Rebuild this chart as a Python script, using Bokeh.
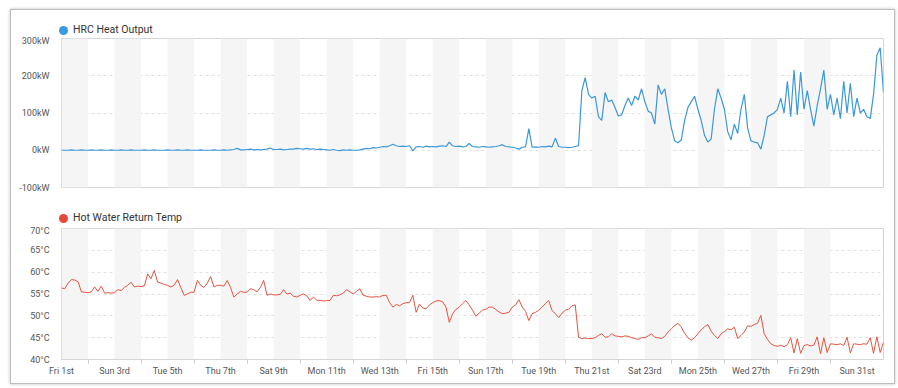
import pandas as pd
from bokeh.plotting import figure
from bokeh.models import (FixedTicker, PrintfTickFormatter, BoxAnnotation, Range1d,
                          ColumnDataSource, Div)
from bokeh.layouts import column
from bokeh.embed import file_html
from bokeh.resources import INLINE

# ---------------- data (3-hourly readings, March 2024) ----------------
start_date = "2024-03-01"
heat_kw = [
    0, 0, 0, 1, 0, 0, 1, 0,
    0, 1, 0, 0, 1, 0, 0, 1,
    0, 0, 1, 0, 0, 1, 0, 0,
    0, 1, 0, 0, 1, 0, 0, 0,
    1, 0, 0, 1, 0, 0, 1, 0,
    0, 0, 1, 0, 0, 0, 1, 0,
    0, 1, 0, 1, 2, 5, 1, 1,
    2, 3, 1, 2, 1, 2, 3, 6,
    2, 2, 3, 1, 2, 3, 3, 5,
    4, 3, 5, 3, 4, 2, 3, 2,
    1, 0, 2, 0, -1, 1, 0, 1,
    0, 0, 1, 3, 5, 4, 7, 6,
    8, 10, 9, 12, 16, 12, 10, 11,
    10, 12, -2, 9, 10, 8, 11, 9,
    10, 9, 11, 12, 10, 22, 12, 10,
    11, 9, 10, 18, 10, 9, 8, 10,
    9, 8, 9, 10, 12, 15, 10, 9,
    8, 6, 3, 8, 9, 58, 8, 9,
    8, 10, 9, 11, 9, 32, 10, 8,
    8, 7, 8, 10, 12, 160, 195, 150,
    140, 145, 90, 80, 155, 130, 135, 115,
    92, 95, 120, 140, 120, 145, 135, 165,
    130, 105, 100, 70, 175, 150, 165, 110,
    60, 25, 20, 28, 80, 115, 130, 145,
    110, 80, 40, 22, 30, 110, 165, 140,
    110, 50, 28, 70, 45, 110, 150, 60,
    25, 22, 20, 3, 40, 90, 95, 100,
    110, 140, 100, 185, 90, 215, 95, 210,
    110, 160, 110, 65, 120, 165, 215, 110,
    150, 95, 140, 85, 185, 100, 180, 90,
    140, 100, 110, 90, 85, 150, 255, 275,
    155,
]
return_temp_c = [
    56.4, 56.2, 57.5, 58.3, 58.2, 57.8, 55.5, 55.4,
    55.3, 55.5, 56.6, 55.6, 56.8, 55.2, 55.3, 55.2,
    55.3, 56.0, 55.8, 56.5, 57.0, 57.7, 56.6, 56.8,
    56.7, 56.9, 59.6, 58.5, 60.4, 57.7, 57.5, 57.2,
    57.0, 56.6, 57.0, 58.3, 56.5, 54.7, 55.0, 55.4,
    55.4, 58.1, 57.0, 56.5, 57.5, 59.0, 56.6, 57.0,
    57.0, 56.8, 58.1, 56.5, 54.3, 55.0, 55.6, 55.4,
    55.4, 56.2, 56.0, 55.5, 56.5, 58.1, 54.7, 55.0,
    54.8, 54.8, 54.9, 56.0, 55.0, 55.2, 54.5, 54.3,
    54.7, 55.0, 54.6, 53.5, 54.3, 53.6, 53.5, 53.4,
    53.5, 53.5, 54.7, 54.6, 54.8, 55.2, 56.0, 55.5,
    55.0, 55.6, 56.2, 54.7, 54.5, 54.3, 54.3, 54.4,
    54.3, 54.7, 54.7, 53.0, 52.0, 52.6, 52.3, 52.8,
    53.0, 53.0, 54.7, 50.8, 52.7, 51.8, 51.6, 52.5,
    53.0, 53.4, 53.5, 53.2, 52.0, 48.5, 50.5, 51.5,
    52.0, 52.8, 53.5, 52.5, 51.3, 49.9, 50.6, 51.3,
    51.5, 52.0, 52.0, 51.5, 50.9, 50.5, 50.6, 50.8,
    52.0, 52.5, 53.7, 52.0, 51.0, 48.9, 50.5, 50.8,
    51.3, 52.0, 52.8, 53.5, 51.2, 50.5, 49.6, 50.6,
    51.3, 51.5, 52.3, 52.5, 45.1, 44.8, 44.9, 44.8,
    44.8, 45.0, 45.5, 45.9, 45.1, 45.2, 45.9, 45.4,
    45.3, 45.2, 45.4, 45.3, 45.0, 44.8, 44.6, 45.0,
    45.0, 45.4, 45.9, 45.1, 45.0, 44.8, 45.3, 46.3,
    47.0, 47.8, 48.3, 47.4, 46.0, 45.0, 44.4, 45.0,
    45.9, 46.8, 47.5, 48.0, 46.5, 45.5, 44.8, 45.9,
    46.4, 47.0, 46.8, 47.4, 44.8, 45.5, 46.3, 47.7,
    47.6, 48.0, 48.3, 50.1, 45.9, 44.6, 43.6, 43.2,
    43.0, 43.3, 42.9, 43.4, 45.0, 41.5, 44.8, 41.4,
    43.2, 43.4, 43.1, 43.3, 45.2, 41.3, 45.0, 41.6,
    43.6, 43.5, 43.4, 43.6, 43.2, 45.1, 41.5, 43.6,
    43.5, 43.4, 43.6, 43.5, 45.0, 41.4, 45.2, 41.6,
    44.0,
]
series_names = ["HRC Heat Output", "Hot Water Return Temp"]
tick_days = [1, 3, 5, 7, 9, 11, 13, 15, 17, 19, 21, 23, 25, 27, 29, 31]
tick_labels = ["Fri 1st", "Sun 3rd", "Tue 5th", "Thu 7th", "Sat 9th", "Mon 11th",
               "Wed 13th", "Fri 15th", "Sun 17th", "Tue 19th", "Thu 21st", "Sat 23rd",
               "Mon 25th", "Wed 27th", "Fri 29th", "Sun 31st"]
shaded_days = [2, 4, 6, 8, 10, 12, 14, 16, 18, 20, 22, 24, 26, 28, 30]
heat_ticks = [-100, 0, 100, 200, 300]
temp_ticks = [40, 45, 50, 55, 60, 65, 70]

# ---------------- helpers ----------------
EPOCH = pd.Timestamp("1970-01-01")


def ms(ts):
    return float((ts - EPOCH) // pd.Timedelta("1ms"))


def day_ms(d):
    return ms(pd.Timestamp(2024, 3, 1) + pd.Timedelta(days=d - 1))


times = pd.date_range(start_date, periods=len(heat_kw), freq="3h")
src = ColumnDataSource(dict(t=times, heat=heat_kw, temp=return_temp_c))

x_range = Range1d(day_ms(1), day_ms(32))

major = [day_ms(d) for d in tick_days]
minor = [day_ms(d) for d in shaded_days]

FONT = "Roboto"
BLUE = "#3b98d8"
RED = "#e5533f"
FRAME_W = 822
LEFT = 50
RIGHT = 11
TOTAL_W = LEFT + FRAME_W + RIGHT


def make_fig(fh, top, bottom, y0, y1, yticks, fmt):
    p = figure(frame_width=FRAME_W, frame_height=fh, x_axis_type="datetime", x_range=x_range,
               y_range=Range1d(y0, y1), output_backend="svg", toolbar_location=None,
               min_border_left=LEFT, min_border_right=RIGHT, min_border_top=top,
               min_border_bottom=bottom)
    p.outline_line_color = "#d6d6d6"
    p.xgrid.visible = False
    p.ygrid.grid_line_color = "#e0e0e0"
    p.ygrid.grid_line_dash = "3 3"
    p.yaxis.ticker = FixedTicker(ticks=yticks)
    p.yaxis.formatter = PrintfTickFormatter(format=fmt)
    p.yaxis.axis_line_color = None
    p.yaxis.major_tick_line_color = None
    p.yaxis.minor_tick_line_color = None
    p.yaxis.major_label_standoff = 6
    p.yaxis.major_label_text_font = FONT
    p.yaxis.major_label_text_font_size = "9px"
    p.yaxis.major_label_text_color = "#555555"
    for d in shaded_days:
        p.add_layout(BoxAnnotation(left=day_ms(d - 1), right=day_ms(d),
                                   fill_color="#f5f5f5", fill_alpha=1, line_alpha=0,
                                   level="underlay"))
    p.xaxis.ticker = FixedTicker(ticks=major, minor_ticks=minor)
    p.xaxis.major_label_overrides = {m: lab for m, lab in zip(major, tick_labels)}
    p.xaxis.axis_line_color = "#d6d6d6"
    p.xaxis.major_tick_out = 0
    p.xaxis.major_tick_in = 0
    p.xaxis.minor_tick_out = 4
    p.xaxis.minor_tick_in = 0
    p.xaxis.minor_tick_line_color = "#cccccc"
    p.xaxis.major_label_standoff = 2
    p.xaxis.major_label_text_font = FONT
    p.xaxis.major_label_text_font_size = "9px"
    p.xaxis.major_label_text_color = "#555555"
    return p


def legend_div(label, color, height, pad_top):
    html = (
        f'<div style="padding-top:{pad_top}px;padding-left:48px;height:10px;'
        f'display:flex;align-items:center;font-family:Roboto;font-size:10.5px;color:#333333;">'
        f'<span style="display:inline-block;width:9px;height:9px;border-radius:50%;'
        f'background:{color};margin-right:5px;"></span>'
        f'<span style="line-height:10px;white-space:nowrap;">{label}</span></div>'
    )
    return Div(text=html, width=TOTAL_W, height=height, margin=0,
               styles={"overflow": "visible"})


d1 = legend_div(series_names[0], "#3a9ae0", 25, 20)
p1 = make_fig(149, 3, 15, -100, 300, heat_ticks, "%dkW")
p1.xaxis.visible = False
p1.line("t", "heat", source=src, color=BLUE, line_width=1.2)

d2 = legend_div(series_names[1], "#e8473a", 23, 16)
p2 = make_fig(131, 3, 24, 40, 70, temp_ticks, "%d°C")
p2.line("t", "temp", source=src, color=RED, line_width=1.0)

layout = column(d1, p1, d2, p2, margin=(9, 0, 0, 10), spacing=0,
                styles={"border": "1px solid #bdbdbd",
                        "box-shadow": "0 0 3px rgba(0,0,0,0.25)"})

open("out.html", "w").write(file_html(layout, INLINE))
